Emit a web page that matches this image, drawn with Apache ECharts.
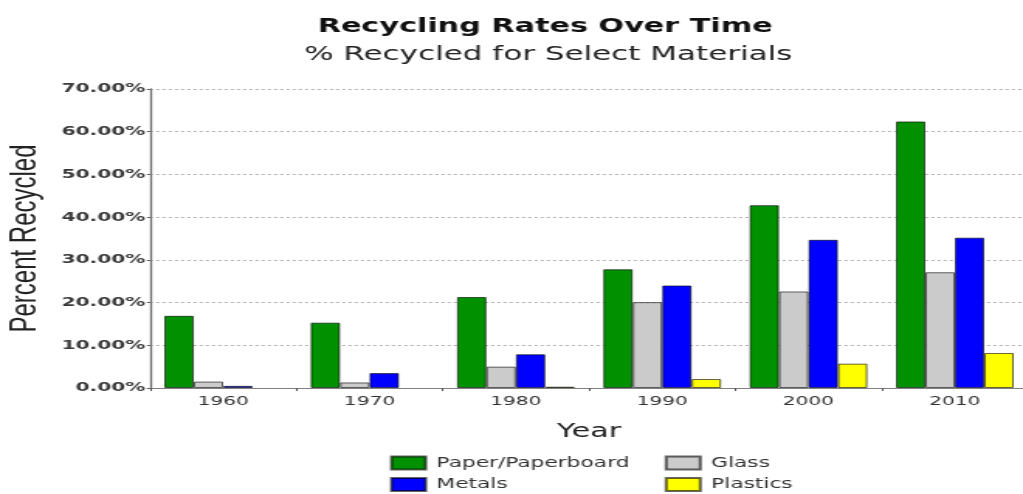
<!DOCTYPE html>
<html>
<head>
<meta charset="utf-8">
<script src="https://cdn.jsdelivr.net/npm/echarts@6/dist/echarts.min.js"></script>
<style>
  html, body { margin: 0; padding: 0; overflow: hidden; background: #fff; }
  /* chart is laid out at 660px wide and widened to the 1023px window */
  #chart { width: 660px; height: 494px; transform: scaleX(1.55); transform-origin: 0 0; }
</style>
</head>
<body>
<div id="chart"></div>
<script>
// Recycling rates (% recycled) by material and decade
const years = ['1960', '1970', '1980', '1990', '2000', '2010'];
const paper = [16.9, 15.3, 21.3, 27.8, 42.8, 62.4];
const glass = [1.5, 1.3, 5.0, 20.1, 22.6, 27.1];
const metals = [0.5, 3.5, 7.9, 24.0, 34.7, 35.2];
const plastics = [0, 0, 0.3, 2.1, 5.7, 8.2];

const seriesNames = ['Paper/Paperboard', 'Glass', 'Metals', 'Plastics'];
const seriesColors = ['#009000', '#cbcbcb', '#0000ff', '#ffff00'];
const seriesData = [paper, glass, metals, plastics];

const sans = 'DejaVu Sans, Verdana, sans-serif';

const chart = echarts.init(document.getElementById('chart'), null, { renderer: 'canvas' });

chart.setOption({
  animation: false,
  backgroundColor: '#ffffff',
  title: [
    {
      text: 'Recycling Rates Over Time',
      left: 346.7, top: 12, textAlign: 'center',
      textStyle: { fontFamily: sans, fontWeight: 'bold', fontSize: 19.5, color: '#111' }
    },
    {
      text: '% Recycled for Select Materials',
      left: 348.7, top: 40, textAlign: 'center',
      textStyle: { fontFamily: sans, fontWeight: 'normal', fontSize: 20, color: '#222' }
    }
  ],
  // two columns: Paper/Paperboard + Glass on the first row, Metals + Plastics on the second
  legend: {
    data: seriesNames,
    orient: 'horizontal',
    left: 251.6, top: 455.5,
    width: 400,
    padding: 0,
    icon: 'rect',
    itemWidth: 22, itemHeight: 13, itemGap: 6.5,
    textStyle: {
      fontFamily: sans, fontSize: 14, color: '#333',
      width: 140.7, overflow: 'none', lineHeight: 13,
      padding: [0, 0, 0, 2]
    }
  },
  grid: {
    left: 96.8, top: 89, width: 566.4, bottom: 106,
    containLabel: false, outerBoundsMode: 'none'
  },
  xAxis: {
    type: 'category',
    data: years,
    name: 'Year',
    nameLocation: 'middle',
    nameGap: 34,
    nameTextStyle: { fontFamily: sans, fontSize: 19.5, color: '#222' },
    axisLine: { lineStyle: { color: '#808080', width: 1.2 } },
    axisTick: { show: true, length: 3, lineStyle: { color: '#555' } },
    axisLabel: { fontFamily: sans, fontSize: 13, color: '#333', margin: 7 }
  },
  yAxis: {
    type: 'value',
    min: 0, max: 70, interval: 10,
    name: 'Percent Recycled',
    nameLocation: 'middle',
    nameRotate: 90,
    nameGap: 67.5,
    nameTextStyle: { fontFamily: 'Liberation Sans, Arial, sans-serif', fontSize: 24, color: '#222' },
    axisLine: { show: true, lineStyle: { color: '#707070', width: 1.3 } },
    axisTick: { show: true, length: 2, lineStyle: { color: '#555' } },
    axisLabel: {
      fontFamily: sans, fontWeight: 'bold', fontSize: 13, color: '#3a3a3a', margin: 3,
      formatter: v => v.toFixed(2) + '%'
    },
    splitLine: { lineStyle: { color: '#b0b0b0', type: [2, 2], width: 1 } }
  },
  series: seriesNames.map((name, i) => ({
    name,
    type: 'bar',
    // a zero rate draws no bar outline
    data: seriesData[i].map(v => v === 0 ? { value: v, itemStyle: { borderWidth: 0 } } : v),
    barWidth: 19,
    barGap: '0%',
    itemStyle: { color: seriesColors[i], borderColor: 'rgba(0,0,0,0.6)', borderWidth: 1 }
  }))
});
</script>
</body>
</html>
